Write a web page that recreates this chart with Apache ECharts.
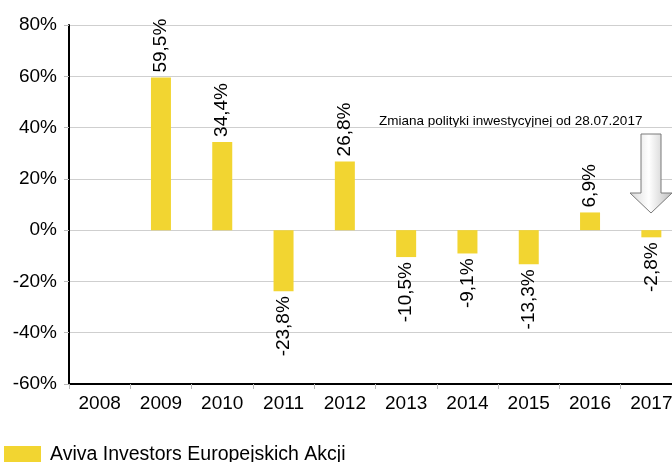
<!DOCTYPE html>
<html>
<head>
<meta charset="utf-8">
<script src="https://cdn.jsdelivr.net/npm/echarts@6/dist/echarts.min.js"></script>
<style>
  html, body { margin: 0; padding: 0; background: #fff; }
  #chart { width: 672px; height: 462px; }
</style>
</head>
<body>
<div id="chart"></div>
<script>
(function() {
  // dane
  var years = ['2008', '2009', '2010', '2011', '2012', '2013', '2014', '2015', '2016', '2017'];
  var returns = [null, 59.5, 34.4, -23.8, 26.8, -10.5, -9.1, -13.3, 6.9, -2.8];
  var seriesName = 'Aviva Investors Europejskich Akcji';
  var note = 'Zmiana polityki inwestycyjnej od 28.07.2017';

  var font = 'Liberation Sans, Arial, sans-serif';
  var yellow = '#f2d531';

  function fmt(v) {
    return v.toFixed(1).replace('.', ',') + '%';
  }

  var barData = returns.map(function(v) {
    if (v === null) return null;
    return {
      value: v,
      label: v < 0
        ? { position: 'bottom', align: 'right' }
        : { position: 'top', align: 'left' }
    };
  });

  var myChart = echarts.init(document.getElementById('chart'));
  var option = {
    animation: false,
    backgroundColor: '#fff',
    textStyle: { fontFamily: font },
    grid: { left: 69, top: 25, bottom: 78, width: 613, outerBoundsMode: 'none', containLabel: false },
    legend: {
      left: 4,
      top: 445,
      padding: 0,
      itemWidth: 37,
      itemHeight: 18,
      itemGap: 8,
      textStyle: { fontSize: 19.5, color: '#000', fontFamily: font, padding: [0, 0, 0, 4] },
      data: [{ name: seriesName, icon: 'rect' }]
    },
    xAxis: {
      type: 'category',
      data: years,
      axisLine: { onZero: false, lineStyle: { color: '#000', width: 2 } },
      axisTick: { show: true, alignWithLabel: false, length: 5, lineStyle: { color: '#bbb' } },
      axisLabel: { color: '#000', fontSize: 19, margin: 10, fontFamily: font }
    },
    yAxis: {
      type: 'value',
      min: -60,
      max: 80,
      interval: 20,
      axisLine: { show: true, lineStyle: { color: '#000', width: 2 } },
      axisTick: { show: true, length: 5, lineStyle: { color: '#bbb' } },
      splitLine: { lineStyle: { color: '#cfcfcf' } },
      axisLabel: {
        color: '#000', fontSize: 19, margin: 12, fontFamily: font,
        formatter: function(v) { return v + '%'; }
      }
    },
    series: [{
      name: seriesName,
      type: 'bar',
      barWidth: 20,
      itemStyle: { color: yellow },
      label: {
        show: true,
        rotate: 90,
        verticalAlign: 'middle',
        distance: 5,
        fontSize: 19,
        color: '#000',
        fontFamily: font,
        formatter: function(p) { return fmt(p.value); }
      },
      data: barData
    }],
    graphic: [
      {
        type: 'text',
        left: 379,
        top: 114,
        style: { text: note, fontSize: 13.5, fill: '#000', fontFamily: font }
      },
      {
        type: 'polygon',
        shape: {
          points: [[641, 134], [661, 134], [661, 193], [672, 193], [651, 213], [630, 193], [641, 193]]
        },
        style: {
          fill: new echarts.graphic.LinearGradient(0, 0, 1, 0, [
            { offset: 0, color: '#d8d8d8' },
            { offset: 0.45, color: '#ffffff' },
            { offset: 1, color: '#bdbdbd' }
          ]),
          stroke: '#7a7a7a',
          lineWidth: 1
        },
        z: 100
      }
    ]
  };
  myChart.setOption(option);
  window.addEventListener('resize', function() {
    myChart.resize();
  });
})();
</script>
</body>
</html>
